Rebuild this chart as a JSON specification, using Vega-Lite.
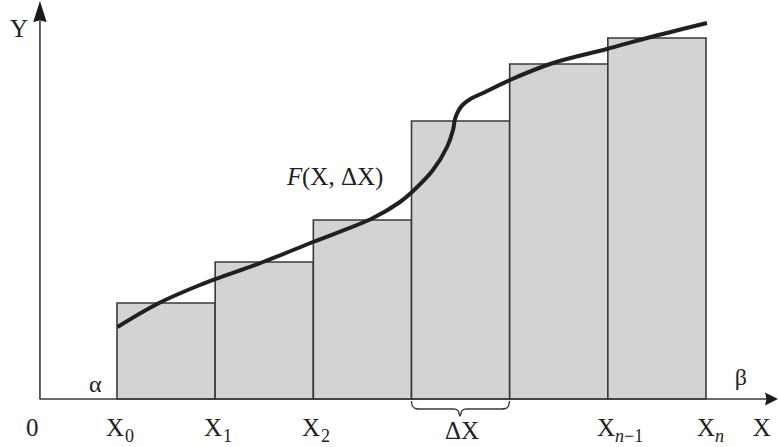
{
  "$schema": "https://vega.github.io/schema/vega-lite/v6.json",
  "width": 778,
  "height": 447,
  "autosize": {"type": "none"},
  "padding": 0,
  "background": "white",
  "config": {"view": {"stroke": null}},
  "datasets": {
    "bars": [
      {"x0": 0, "x1": 1, "h": 0.96},
      {"x0": 1, "x1": 2, "h": 1.37},
      {"x0": 2, "x1": 3, "h": 1.79},
      {"x0": 3, "x1": 4, "h": 2.78},
      {"x0": 4, "x1": 5, "h": 3.35},
      {"x0": 5, "x1": 6, "h": 3.61}
    ],
    "curve": [
      {"x": 0.005, "y": 0.72},
      {"x": 0.418, "y": 0.955},
      {"x": 0.845, "y": 1.14},
      {"x": 1.487, "y": 1.37},
      {"x": 1.997, "y": 1.57},
      {"x": 2.608, "y": 1.81},
      {"x": 2.883, "y": 1.97},
      {"x": 3.005, "y": 2.07},
      {"x": 3.219, "y": 2.29},
      {"x": 3.362, "y": 2.52},
      {"x": 3.423, "y": 2.69},
      {"x": 3.443, "y": 2.80},
      {"x": 3.474, "y": 2.875},
      {"x": 3.52, "y": 2.94},
      {"x": 3.60, "y": 3.00},
      {"x": 3.728, "y": 3.06},
      {"x": 4.003, "y": 3.19},
      {"x": 4.441, "y": 3.36},
      {"x": 4.991, "y": 3.50},
      {"x": 5.399, "y": 3.61},
      {"x": 6.010, "y": 3.76}
    ],
    "brace": [
      {"x": 2.999, "y": -0.02},
      {"x": 3.009, "y": -0.07},
      {"x": 3.040, "y": -0.095},
      {"x": 3.076, "y": -0.10},
      {"x": 3.433, "y": -0.10},
      {"x": 3.474, "y": -0.115},
      {"x": 3.494, "y": -0.17},
      {"x": 3.515, "y": -0.115},
      {"x": 3.555, "y": -0.10},
      {"x": 3.912, "y": -0.10},
      {"x": 3.958, "y": -0.095},
      {"x": 3.988, "y": -0.07},
      {"x": 3.998, "y": -0.02}
    ],
    "axes": [
      {"x": -0.789, "y": 0, "x2": 6.64, "y2": 0},
      {"x": -0.785, "y": 0, "x2": -0.785, "y2": 3.78}
    ],
    "arrowY": [{"x": -0.785, "y": 3.875}],
    "arrowX": [{"x": 6.667, "y": 0}],
    "labelsMain": [
      {"t": "0", "x": -0.927, "y": -0.37},
      {"t": "X", "x": -0.112, "y": -0.37},
      {"t": "X", "x": 0.886, "y": -0.37},
      {"t": "X", "x": 1.885, "y": -0.37},
      {"t": "ΔX", "x": 3.341, "y": -0.40},
      {"t": "X", "x": 4.890, "y": -0.37},
      {"t": "X", "x": 5.909, "y": -0.37},
      {"t": "X", "x": 6.477, "y": -0.37},
      {"t": "Y", "x": -1.09, "y": 3.62},
      {"t": "(X, ΔX)", "x": 1.885, "y": 2.14}
    ],
    "labelsSub": [
      {"t": "0", "x": 0.0815, "y": -0.43},
      {"t": "1", "x": 1.080, "y": -0.43},
      {"t": "2", "x": 2.078, "y": -0.43},
      {"t": "−1", "x": 5.165, "y": -0.43}
    ],
    "labelsSubItalic": [
      {"t": "n", "x": 5.073, "y": -0.43},
      {"t": "n", "x": 6.092, "y": -0.43}
    ],
    "labelsItalic": [{"t": "F", "x": 1.732, "y": 2.14}],
    "labelsGreek": [
      {"t": "α", "x": -0.285, "y": 0.07},
      {"t": "β", "x": 6.293, "y": 0.14}
    ]
  },
  "layer": [
    {
      "data": {"name": "bars"},
      "mark": {"type": "rect", "fill": "#d1d3d4", "stroke": "#3a3a3a", "strokeWidth": 1.6},
      "encoding": {
        "x": {"field": "x0", "type": "quantitative", "scale": {"domain": [-1.19185, 6.73343], "nice": false, "zero": false}, "axis": null},
        "x2": {"field": "x1"},
        "y": {"field": "h", "type": "quantitative", "scale": {"domain": [-0.48, 3.99], "nice": false, "zero": false}, "axis": null},
        "y2": {"datum": 0}
      }
    },
    {
      "data": {"name": "axes"},
      "mark": {"type": "rule", "stroke": "#3a3a3a", "strokeWidth": 1.6},
      "encoding": {
        "x": {"field": "x", "type": "quantitative", "scale": {"domain": [-1.19185, 6.73343], "nice": false, "zero": false}, "axis": null},
        "x2": {"field": "x2"},
        "y": {"field": "y", "type": "quantitative", "scale": {"domain": [-0.48, 3.99], "nice": false, "zero": false}, "axis": null},
        "y2": {"field": "y2"}
      }
    },
    {
      "data": {"name": "arrowY"},
      "mark": {"type": "point", "shape": "M0,-1L0.64,1L0,0.85L-0.64,1Z", "size": 441, "filled": true, "fill": "#1a1a1a", "strokeWidth": 0, "opacity": 1},
      "encoding": {
        "x": {"field": "x", "type": "quantitative", "scale": {"domain": [-1.19185, 6.73343], "nice": false, "zero": false}, "axis": null},
        "y": {"field": "y", "type": "quantitative", "scale": {"domain": [-0.48, 3.99], "nice": false, "zero": false}, "axis": null}
      }
    },
    {
      "data": {"name": "arrowX"},
      "mark": {"type": "point", "shape": "M1,0L-1,-1L-0.75,0L-1,1Z", "size": 169, "filled": true, "fill": "#1a1a1a", "strokeWidth": 0, "opacity": 1},
      "encoding": {
        "x": {"field": "x", "type": "quantitative", "scale": {"domain": [-1.19185, 6.73343], "nice": false, "zero": false}, "axis": null},
        "y": {"field": "y", "type": "quantitative", "scale": {"domain": [-0.48, 3.99], "nice": false, "zero": false}, "axis": null}
      }
    },
    {
      "data": {"name": "brace"},
      "mark": {"type": "line", "stroke": "#3a3a3a", "strokeWidth": 1.4, "interpolate": "monotone"},
      "encoding": {
        "x": {"field": "x", "type": "quantitative", "scale": {"domain": [-1.19185, 6.73343], "nice": false, "zero": false}, "axis": null},
        "y": {"field": "y", "type": "quantitative", "scale": {"domain": [-0.48, 3.99], "nice": false, "zero": false}, "axis": null}
      }
    },
    {
      "data": {"name": "curve"},
      "mark": {"type": "line", "stroke": "#231f20", "strokeWidth": 4, "interpolate": "catmull-rom", "strokeCap": "butt"},
      "encoding": {
        "x": {"field": "x", "type": "quantitative", "scale": {"domain": [-1.19185, 6.73343], "nice": false, "zero": false}, "axis": null},
        "y": {"field": "y", "type": "quantitative", "scale": {"domain": [-0.48, 3.99], "nice": false, "zero": false}, "axis": null}
      }
    },
    {
      "data": {"name": "labelsMain"},
      "mark": {"type": "text", "font": "Liberation Serif", "fontSize": 25, "align": "left", "baseline": "alphabetic", "fill": "#231f20"},
      "encoding": {
        "x": {"field": "x", "type": "quantitative", "scale": {"domain": [-1.19185, 6.73343], "nice": false, "zero": false}, "axis": null},
        "y": {"field": "y", "type": "quantitative", "scale": {"domain": [-0.48, 3.99], "nice": false, "zero": false}, "axis": null},
        "text": {"field": "t"}
      }
    },
    {
      "data": {"name": "labelsSub"},
      "mark": {"type": "text", "font": "Liberation Serif", "fontSize": 18, "align": "left", "baseline": "alphabetic", "fill": "#231f20"},
      "encoding": {
        "x": {"field": "x", "type": "quantitative", "scale": {"domain": [-1.19185, 6.73343], "nice": false, "zero": false}, "axis": null},
        "y": {"field": "y", "type": "quantitative", "scale": {"domain": [-0.48, 3.99], "nice": false, "zero": false}, "axis": null},
        "text": {"field": "t"}
      }
    },
    {
      "data": {"name": "labelsSubItalic"},
      "mark": {"type": "text", "font": "Liberation Serif", "fontSize": 18, "fontStyle": "italic", "align": "left", "baseline": "alphabetic", "fill": "#231f20"},
      "encoding": {
        "x": {"field": "x", "type": "quantitative", "scale": {"domain": [-1.19185, 6.73343], "nice": false, "zero": false}, "axis": null},
        "y": {"field": "y", "type": "quantitative", "scale": {"domain": [-0.48, 3.99], "nice": false, "zero": false}, "axis": null},
        "text": {"field": "t"}
      }
    },
    {
      "data": {"name": "labelsItalic"},
      "mark": {"type": "text", "font": "Liberation Serif", "fontSize": 25, "fontStyle": "italic", "align": "left", "baseline": "alphabetic", "fill": "#231f20"},
      "encoding": {
        "x": {"field": "x", "type": "quantitative", "scale": {"domain": [-1.19185, 6.73343], "nice": false, "zero": false}, "axis": null},
        "y": {"field": "y", "type": "quantitative", "scale": {"domain": [-0.48, 3.99], "nice": false, "zero": false}, "axis": null},
        "text": {"field": "t"}
      }
    },
    {
      "data": {"name": "labelsGreek"},
      "mark": {"type": "text", "font": "Liberation Serif", "fontSize": 24, "align": "left", "baseline": "alphabetic", "fill": "#231f20"},
      "encoding": {
        "x": {"field": "x", "type": "quantitative", "scale": {"domain": [-1.19185, 6.73343], "nice": false, "zero": false}, "axis": null},
        "y": {"field": "y", "type": "quantitative", "scale": {"domain": [-0.48, 3.99], "nice": false, "zero": false}, "axis": null},
        "text": {"field": "t"}
      }
    }
  ]
}
